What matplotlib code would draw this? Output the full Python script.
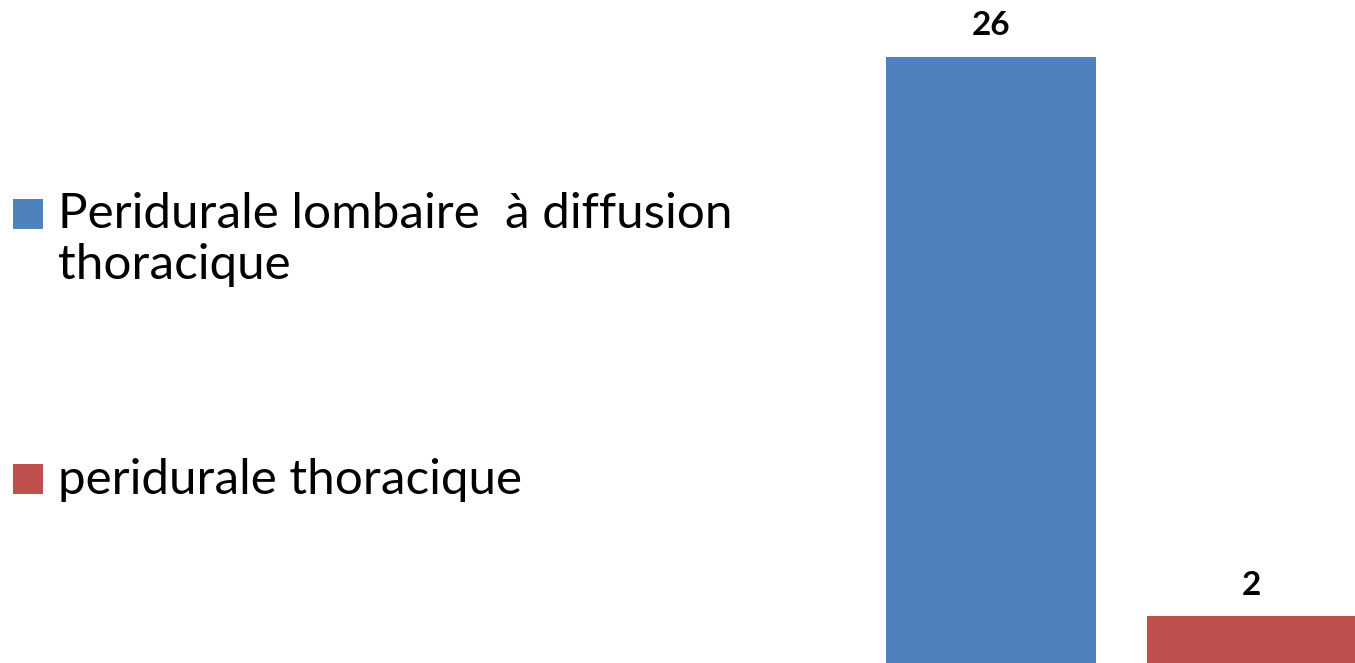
import matplotlib
matplotlib.use("Agg")
from matplotlib import pyplot as plt
from matplotlib.patches import Rectangle
from matplotlib.legend_handler import HandlerPatch

categories = ["Peridurale lombaire  à diffusion\nthoracique", "peridurale thoracique"]
values = [26, 2]
colors = ["#4F81BD", "#C0504D"]

plt.rcParams['font.family'] = ['Lato', 'DejaVu Sans']

fig = plt.figure(figsize=(13.55, 6.63), dpi=100)
ax = fig.add_axes([0.6, 0.0, 0.4, 1.0])

bars = ax.bar([0, 1], values, width=0.806, color=colors)
for b, c in zip(bars, categories):
    b.set_label(c)
ax.set_xlim(-0.683, 1.397)
ax.set_ylim(0, 28.45)
ax.axis('off')

for b, v in zip(bars, values):
    ax.annotate(str(v), (b.get_x() + b.get_width() / 2, v), xytext=(0, 12),
                textcoords='offset points', ha='center', va='bottom',
                fontsize=24, fontweight='bold')


# square handle put beside the first line of the label
def square(legend, orig_handle, xdescent, ydescent, width, height, fontsize):
    nlines = orig_handle.get_label().count("\n")
    s = 0.607 * fontsize
    shift = nlines * fontsize * 0.6
    return Rectangle((xdescent, ydescent + (height - s) / 2 + shift), s, s)


leg = fig.legend(bars, categories, loc='upper left', bbox_to_anchor=(0.0096, 0.71),
                 frameon=False, fontsize=35.6, handlelength=0.607, handleheight=0.607,
                 handletextpad=0.3, labelspacing=3.44, borderaxespad=0, borderpad=0,
                 handler_map={Rectangle: HandlerPatch(patch_func=square)})

fig.savefig("out.png", dpi=100)
